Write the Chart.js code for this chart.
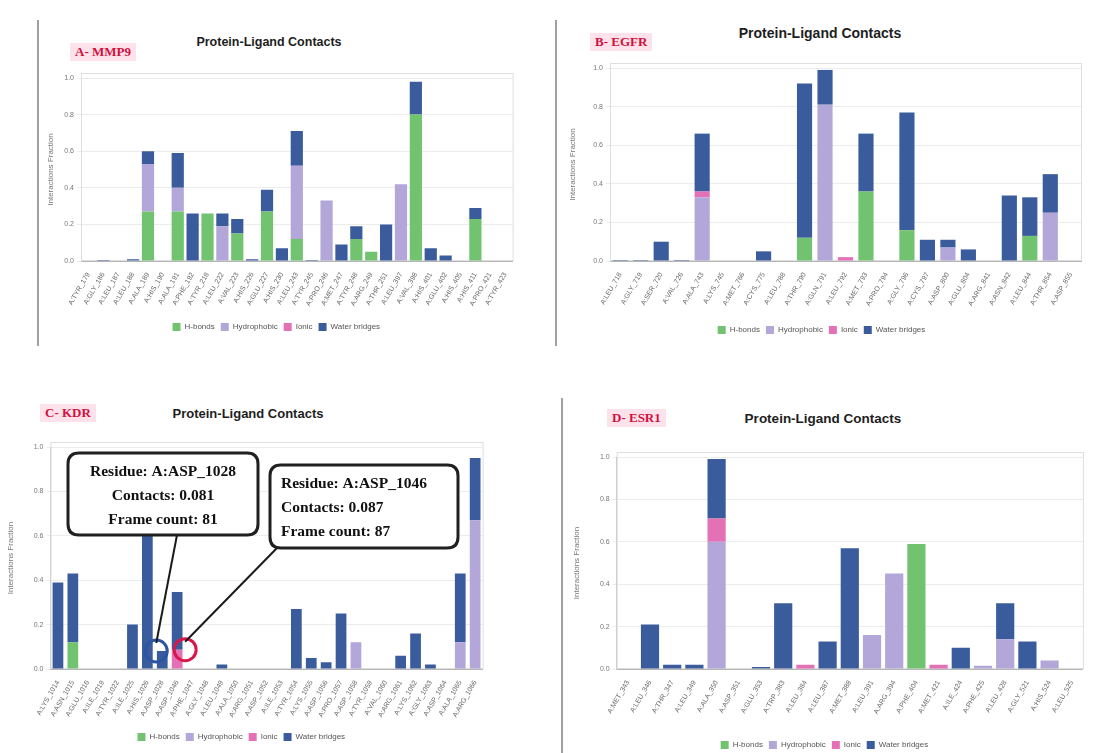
<!DOCTYPE html>
<html>
<head>
<meta charset="utf-8">
<script src="https://cdn.jsdelivr.net/npm/chart.js@4.4.0/dist/chart.umd.min.js"></script>
<style>
  html, body { margin: 0; padding: 0; background: #ffffff; }
  body { width: 1115px; height: 753px; position: relative; overflow: hidden;
         font-family: "Liberation Sans", Arial, sans-serif; }
  .wrap { position: absolute; }
  .title { position: absolute; font-weight: bold; color: #1e1e1e; white-space: nowrap;
           transform: translate(-50%, -50%); }
  .tag { position: absolute; font-family: "Liberation Serif", serif; font-weight: bold;
         color: #d2103c; background: #fde2ec; padding: 1px 5px; white-space: nowrap;
         transform: translateY(-50%); font-size: 13px; }
  .rule { position: absolute; width: 2px; background: #a0a0a0; }
</style>
</head>
<body>
<div class="rule" style="left:37px;top:20px;height:326px;"></div>
<div class="rule" style="left:555px;top:20px;height:326px;"></div>
<div class="rule" style="left:561px;top:398px;height:355px;"></div>

<div class="tag" style="left:70px;top:52px;">A- MMP9</div>
<div class="title" style="left:269px;top:42px;font-size:12.5px;">Protein-Ligand Contacts</div>
<div class="tag" style="left:590px;top:42px;">B- EGFR</div>
<div class="title" style="left:820px;top:33px;font-size:14px;">Protein-Ligand Contacts</div>
<div class="tag" style="left:40px;top:413px;">C- KDR</div>
<div class="title" style="left:248px;top:413px;font-size:13px;">Protein-Ligand Contacts</div>
<div class="tag" style="left:607px;top:418px;">D- ESR1</div>
<div class="title" style="left:823px;top:418px;font-size:13.5px;">Protein-Ligand Contacts</div>

<script>
// Interaction types, stacked bottom to top
const seriesNames = ['H-bonds', 'Hydrophobic', 'Ionic', 'Water bridges'];
const seriesColors = ['#72c36f', '#b3a6d8', '#e470b6', '#3a5c9c'];
const yTicks = [0, 0.2, 0.4, 0.6, 0.8, 1.0];

// A - MMP9
const mmp9Residues = ['A:TYR_179','A:GLY_186','A:LEU_187','A:LEU_188','A:ALA_189','A:HIS_190','A:ALA_191',
  'A:PHE_192','A:TYR_218','A:LEU_222','A:VAL_223','A:HIS_226','A:GLU_227','A:HIS_230','A:LEU_243',
  'A:TYR_245','A:PRO_246','A:MET_247','A:TYR_248','A:ARG_249','A:THR_251','A:LEU_397','A:VAL_398',
  'A:HIS_401','A:GLU_402','A:HIS_405','A:HIS_411','A:PRO_421','A:TYR_423'];
const mmp9Hbonds      = [0,0,0,0,0.27,0,0.27,0,0.26,0,0.15,0,0.27,0,0.12,0,0,0,0.12,0.05,0,0,0.80,0,0,0,0.23,0,0];
const mmp9Hydrophobic = [0,0,0,0,0.26,0,0.13,0,0,0.19,0,0,0,0,0.40,0,0.33,0,0,0,0,0.42,0,0,0,0,0,0,0];
const mmp9Ionic       = [0,0,0,0,0,0,0,0,0,0,0,0,0,0,0,0,0,0,0,0,0,0,0,0,0,0,0,0,0];
const mmp9Water       = [0,0.005,0,0.01,0.07,0,0.19,0.26,0,0.07,0.08,0.01,0.12,0.07,0.19,0.005,0,0.09,0.07,0,0.20,0,0.18,0.07,0.03,0,0.06,0,0];

// B - EGFR
const egfrResidues = ['A:LEU_718','A:GLY_719','A:SER_720','A:VAL_726','A:ALA_743','A:LYS_745','A:MET_766',
  'A:CYS_775','A:LEU_788','A:THR_790','A:GLN_791','A:LEU_792','A:MET_793','A:PRO_794','A:GLY_796',
  'A:CYS_797','A:ASP_800','A:GLU_804','A:ARG_841','A:ASN_842','A:LEU_844','A:THR_854','A:ASP_855'];
const egfrHbonds      = [0,0,0,0,0,0,0,0,0,0.12,0,0,0.36,0,0.16,0,0,0,0,0,0.13,0,0];
const egfrHydrophobic = [0,0,0,0,0.33,0,0,0,0,0,0.81,0,0,0,0,0,0.07,0,0,0,0,0.25,0];
const egfrIonic       = [0,0,0,0,0.03,0,0,0,0,0,0,0.02,0,0,0,0,0,0,0,0,0,0,0];
const egfrWater       = [0.005,0.005,0.10,0.005,0.30,0,0,0.05,0,0.80,0.18,0,0.30,0,0.61,0.11,0.04,0.06,0,0.34,0.20,0.20,0];

// C - KDR
const kdrResidues = ['A:LYS_1014','A:ASN_1015','A:GLU_1016','A:ILE_1019','A:TYR_1022','A:ILE_1025','A:HIS_1026',
  'A:ASP_1028','A:ASP_1046','A:PHE_1047','A:GLY_1048','A:LEU_1049','A:ALA_1050','A:ARG_1051','A:ASP_1052',
  'A:ILE_1053','A:TYR_1054','A:LYS_1055','A:ASP_1056','A:PRO_1057','A:ASP_1058','A:TYR_1059','A:VAL_1060',
  'A:ARG_1061','A:LYS_1062','A:GLY_1063','A:ASP_1064','A:ALA_1065','A:ARG_1066'];
const kdrHbonds      = [0,0.12,0,0,0,0,0,0,0,0,0,0,0,0,0,0,0,0,0,0,0,0,0,0,0,0,0,0,0];
const kdrHydrophobic = [0,0,0,0,0,0,0,0,0,0,0,0,0,0,0,0,0,0,0,0,0.12,0,0,0,0,0,0,0.12,0.67];
const kdrIonic       = [0,0,0,0,0,0,0,0,0.087,0,0,0,0,0,0,0,0,0,0,0,0,0,0,0,0,0,0,0,0];
const kdrWater       = [0.39,0.31,0,0,0,0.20,0.61,0.081,0.26,0,0,0.02,0,0,0,0,0.27,0.05,0.03,0.25,0,0,0,0.06,0.16,0.02,0,0.31,0.28];

// D - ESR1
const esr1Residues = ['A:MET_343','A:LEU_346','A:THR_347','A:LEU_349','A:ALA_350','A:ASP_351','A:GLU_353',
  'A:TRP_383','A:LEU_384','A:LEU_387','A:MET_388','A:LEU_391','A:ARG_394','A:PHE_404','A:MET_421',
  'A:ILE_424','A:PHE_425','A:LEU_428','A:GLY_521','A:HIS_524','A:LEU_525'];
const esr1Hbonds      = [0,0,0,0,0,0,0,0,0,0,0,0,0,0.59,0,0,0,0,0,0,0];
const esr1Hydrophobic = [0,0,0,0,0.60,0,0,0,0,0,0,0.16,0.45,0,0,0,0.015,0.14,0,0.04,0];
const esr1Ionic       = [0,0,0,0,0.11,0,0,0,0.02,0,0,0,0,0,0.02,0,0,0,0,0,0];
const esr1Water       = [0,0.21,0.02,0.02,0.28,0,0.01,0.31,0,0.13,0.57,0,0,0,0,0.10,0,0.17,0.13,0,0];

// Highlighted residues in the KDR panel (hover read-outs)
const kdrCallouts = [
  { residue: 'A:ASP_1028', series: 3, ring: '#2d55a6', dx: -6, box: [68, 16, 190, 82], anchor: [177, 98], align: 'center' },
  { residue: 'A:ASP_1046', series: 2, ring: '#d8184a', dx: 8, box: [270, 28, 188, 83], anchor: [277, 111], align: 'left' }
];
const kdrSeries = [kdrHbonds, kdrHydrophobic, kdrIonic, kdrWater];

Chart.defaults.font.family = '"Liberation Sans", Arial, sans-serif';

function roundRect(ctx, x, y, w, h, r) {
  ctx.beginPath();
  ctx.moveTo(x + r, y);
  ctx.lineTo(x + w - r, y);
  ctx.quadraticCurveTo(x + w, y, x + w, y + r);
  ctx.lineTo(x + w, y + h - r);
  ctx.quadraticCurveTo(x + w, y + h, x + w - r, y + h);
  ctx.lineTo(x + r, y + h);
  ctx.quadraticCurveTo(x, y + h, x, y + h - r);
  ctx.lineTo(x, y + r);
  ctx.quadraticCurveTo(x, y, x + r, y);
  ctx.closePath();
}

// light frame round every plot area
const framePlugin = {
  id: 'plotFrame',
  beforeDatasetsDraw(chart) {
    const { ctx, chartArea: a } = chart;
    ctx.save();
    ctx.strokeStyle = '#dedede';
    ctx.lineWidth = 1;
    ctx.strokeRect(a.left + 0.5, a.top - 4.5, a.right - a.left, a.bottom - a.top + 4);
    ctx.restore();
  }
};

const calloutPlugin = {
  id: 'kdrCallouts',
  afterDatasetsDraw(chart) {
    const { ctx, scales: { x, y } } = chart;
    ctx.save();
    kdrCallouts.forEach(c => {
      const i = kdrResidues.indexOf(c.residue);
      let cum = 0;
      for (let s = 0; s <= c.series; s++) cum += kdrSeries[s][i];
      const value = kdrSeries[c.series][i];
      const px = x.getPixelForValue(i);
      const py = y.getPixelForValue(cum);
      // ring on the segment
      ctx.lineWidth = 3;
      ctx.strokeStyle = c.ring;
      ctx.beginPath();
      ctx.arc(px + c.dx, py, 11, 0, Math.PI * 2);
      ctx.stroke();
      // leader line
      ctx.lineWidth = 2;
      ctx.strokeStyle = '#1b1b1b';
      ctx.beginPath();
      ctx.moveTo(c.anchor[0], c.anchor[1]);
      ctx.lineTo(px + c.dx, py - 8);
      ctx.stroke();
      // box
      const [bx, by, bw, bh] = c.box;
      roundRect(ctx, bx, by, bw, bh, 11);
      ctx.fillStyle = 'rgba(255,255,255,0.97)';
      ctx.fill();
      ctx.lineWidth = 3;
      ctx.strokeStyle = '#202020';
      ctx.stroke();
      const lines = [
        'Residue: ' + c.residue,
        'Contacts: ' + value.toFixed(3),
        'Frame count: ' + Math.round(value * 1000)
      ];
      ctx.fillStyle = '#111';
      ctx.font = 'bold 15.5px "Liberation Serif", serif';
      ctx.textBaseline = 'middle';
      lines.forEach((t, k) => {
        const ty = by + 19 + k * 24;
        if (c.align === 'center') { ctx.textAlign = 'center'; ctx.fillText(t, bx + bw / 2, ty); }
        else { ctx.textAlign = 'left'; ctx.fillText(t, bx + 11, ty); }
      });
    });
    ctx.restore();
  }
};

function makePanel(p) {
  const legendH = 26, padBottom = 4;
  const H = Math.round((p.area.bottom - p.top) + p.xH + legendH + padBottom);
  const wrap = document.createElement('div');
  wrap.className = 'wrap';
  wrap.style.left = p.left + 'px';
  wrap.style.top = p.top + 'px';
  wrap.style.width = p.width + 'px';
  wrap.style.height = H + 'px';
  const cv = document.createElement('canvas');
  cv.width = p.width; cv.height = H;
  cv.style.width = p.width + 'px'; cv.style.height = H + 'px';
  wrap.appendChild(cv);
  document.body.appendChild(wrap);

  const datasets = p.series.map((arr, k) => ({
    label: seriesNames[k],
    data: arr,
    backgroundColor: seriesColors[k],
    borderWidth: 0,
    barPercentage: p.barPct,
    categoryPercentage: 1.0
  }));

  return new Chart(cv, {
    type: 'bar',
    data: { labels: p.labels, datasets },
    plugins: [framePlugin].concat(p.plugins || []),
    options: {
      responsive: false,
      animation: false,
      devicePixelRatio: 1,
      layout: {
        autoPadding: false,
        padding: {
          left: 0,
          top: p.area.top - p.top,
          right: p.left + p.width - p.area.right,
          bottom: padBottom
        }
      },
      plugins: {
        title: { display: false },
        tooltip: { enabled: false },
        legend: {
          position: 'bottom',
          labels: { boxWidth: 8, boxHeight: 8, color: '#555', padding: 6, font: { size: 8 } }
        }
      },
      scales: {
        x: {
          stacked: true,
          grid: { display: false },
          border: { color: '#b5b5b5' },
          ticks: { color: '#666', font: { size: 7 }, minRotation: 60, maxRotation: 60, autoSkip: false, padding: 2 },
          afterFit: s => { s.height = p.xH; }
        },
        y: {
          stacked: true,
          min: 0, max: 1,
          afterBuildTicks: s => { s.ticks = yTicks.map(v => ({ value: v })); },
          grid: { color: '#ececec', tickLength: 4 },
          border: { color: '#c8c8c8' },
          ticks: { color: '#777', font: { size: 7 }, padding: 3, callback: v => v.toFixed(1) },
          title: { display: true, text: 'Interactions Fraction', color: '#777', font: { size: 8 }, padding: { top: 6, bottom: 2 } },
          afterFit: s => { s.width = p.area.left - p.left; }
        }
      }
    }
  });
}

makePanel({
  left: 40, top: 66, width: 490, barPct: 0.82,
  area: { left: 81, top: 78, right: 512.6, bottom: 259 }, xH: 56,
  labels: mmp9Residues, series: [mmp9Hbonds, mmp9Hydrophobic, mmp9Ionic, mmp9Water]
});
makePanel({
  left: 562, top: 56, width: 545, barPct: 0.74,
  area: { left: 610, top: 68, right: 1081, bottom: 259 }, xH: 59,
  labels: egfrResidues, series: [egfrHbonds, egfrHydrophobic, egfrIonic, egfrWater]
});
makePanel({
  left: 0, top: 437, width: 500, barPct: 0.72,
  area: { left: 50.5, top: 447, right: 482.6, bottom: 667 }, xH: 58,
  labels: kdrResidues, series: kdrSeries, plugins: [calloutPlugin]
});
makePanel({
  left: 566, top: 447, width: 540, barPct: 0.82,
  area: { left: 616.7, top: 457, right: 1082.9, bottom: 667 }, xH: 66,
  labels: esr1Residues, series: [esr1Hbonds, esr1Hydrophobic, esr1Ionic, esr1Water]
});
</script>
</body>
</html>
